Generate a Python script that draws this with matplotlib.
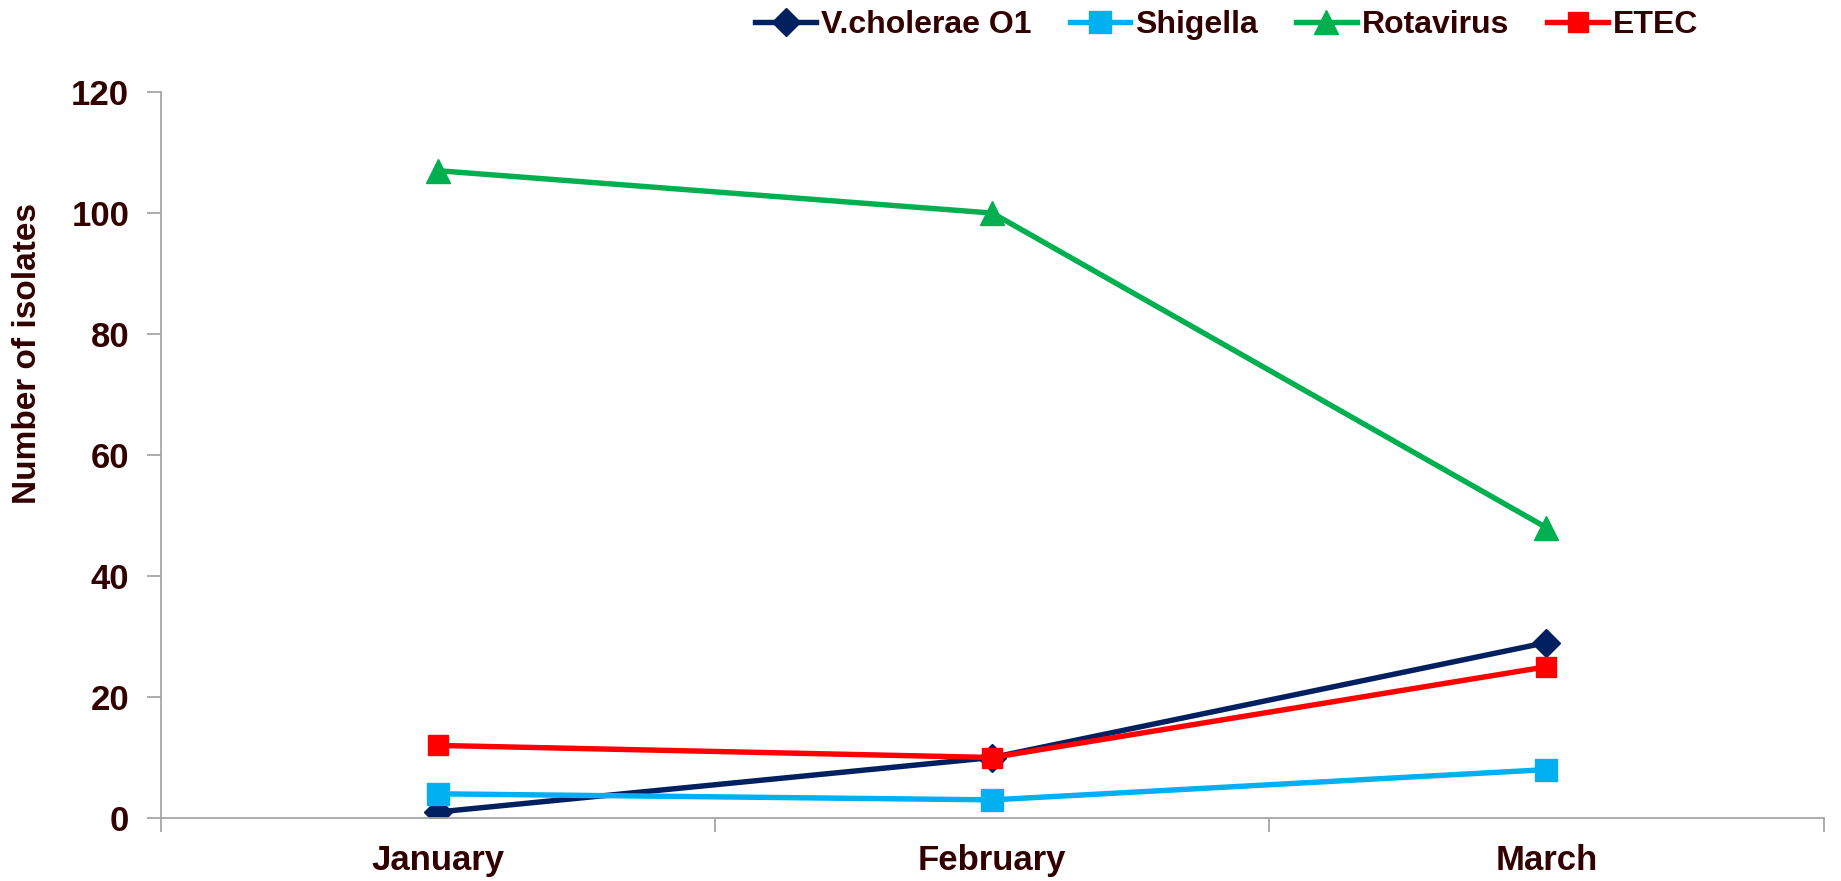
# Line chart: monthly isolates per pathogen
import matplotlib
matplotlib.use("Agg")
import matplotlib.pyplot as plt

months = ["January", "February", "March"]
vcholerae = [1, 10, 29]
shigella = [4, 3, 8]
rotavirus = [107, 100, 48]
etec = [12, 10, 25]

plt.rcParams['font.family'] = ['Liberation Sans', 'DejaVu Sans']
text_color = "#330000"
axis_color = "#a6a6a6"

fig = plt.figure(figsize=(18.41, 8.81), dpi=100)
ax = fig.add_axes([0.0875, 0.0715, 0.903, 0.824])

x = range(len(months))
ax.plot(x, vcholerae, color="#002060", lw=3.9, marker='D', ms=14, label="V.cholerae O1")
ax.plot(x, shigella, color="#00B0F0", lw=3.9, marker='s', ms=16, label="Shigella")
ax.plot(x, rotavirus, color="#00B050", lw=3.9, marker='^', ms=17, label="Rotavirus")
ax.plot(x, etec, color="#FF0000", lw=3.9, marker='s', ms=14, label="ETEC")

ax.set_xlim(-0.5, 2.5)
ax.set_ylim(0, 120)
ax.set_yticks(range(0, 121, 20))
ax.set_xticks(list(x))
ax.set_xticklabels(months)
ax.set_xticks([-0.5, 0.5, 1.5, 2.5], minor=True)
ax.tick_params(axis='x', which='major', length=0, pad=19, labelsize=25, labelcolor=text_color)
ax.tick_params(axis='x', which='minor', length=10, color=axis_color, width=1.3)
ax.tick_params(axis='y', length=10, color=axis_color, width=1.3, pad=13, labelsize=25, labelcolor=text_color)
for lbl in ax.get_xticklabels() + ax.get_yticklabels():
    lbl.set_fontweight('bold')

for s in ['top', 'right']:
    ax.spines[s].set_visible(False)
for s in ['left', 'bottom']:
    ax.spines[s].set_color(axis_color)
    ax.spines[s].set_linewidth(1.3)

ax.set_ylabel("Number of isolates", fontsize=24, fontweight='bold', color=text_color)
ax.yaxis.set_label_coords(-0.071, 0.64)

leg = ax.legend(loc='center', bbox_to_anchor=(0.641, 1.092), ncol=4, frameon=False,
                fontsize=23, handlelength=1.9, handletextpad=0.15, columnspacing=1.2)
for t in leg.get_texts():
    t.set_fontweight('bold')
    t.set_color(text_color)

fig.savefig("out.png", dpi=100)
